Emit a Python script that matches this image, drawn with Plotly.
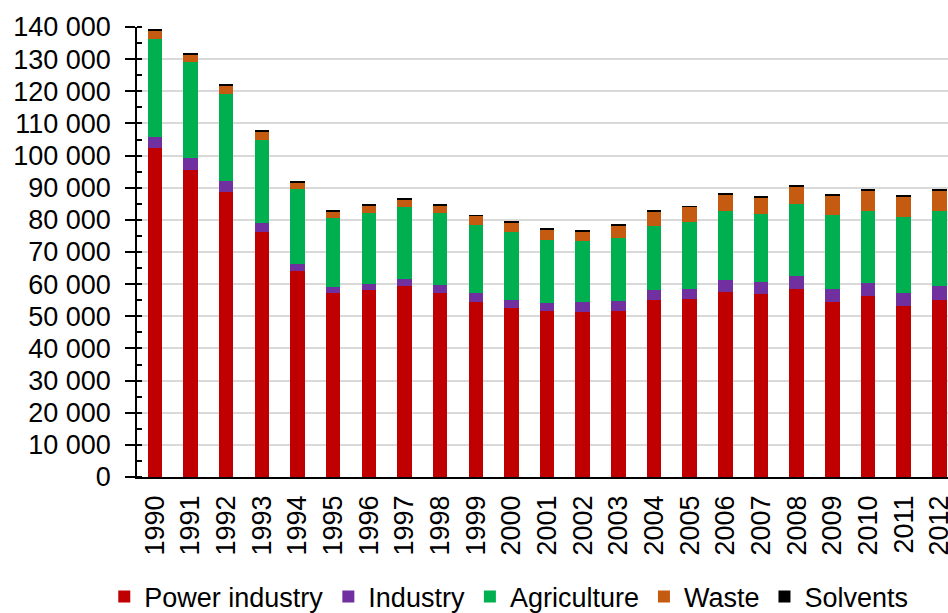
import plotly.graph_objects as go

years = [str(y) for y in range(1990, 2013)]

power_industry = [102.3, 95.6, 88.8, 76.3, 64.1, 57.2, 58.2, 59.4, 57.2, 54.4, 52.6, 51.6,
                  51.3, 51.7, 55.0, 55.3, 57.6, 56.8, 58.5, 54.5, 56.4, 53.2, 55.2]
industry = [3.4, 3.7, 3.3, 2.7, 2.1, 1.9, 1.8, 2.3, 2.5, 2.8, 2.6, 2.6,
            3.1, 3.1, 3.2, 3.3, 3.8, 3.8, 4.0, 4.1, 4.0, 4.1, 4.3]
agriculture = [30.6, 29.7, 27.1, 25.9, 23.3, 21.4, 22.0, 22.2, 22.3, 21.1, 20.9, 19.6,
               19.0, 19.6, 19.9, 20.7, 21.3, 21.1, 22.4, 22.8, 22.4, 23.5, 23.3]
waste = [2.5, 2.4, 2.6, 2.7, 2.0, 2.0, 2.6, 2.5, 2.6, 3.0, 3.1, 3.1,
         3.0, 3.8, 4.4, 4.7, 5.1, 5.2, 5.4, 6.1, 6.4, 6.4, 6.4]
solvents = [0.4, 0.4, 0.4, 0.3, 0.3, 0.4, 0.4, 0.4, 0.4, 0.2, 0.2, 0.3,
            0.4, 0.4, 0.4, 0.3, 0.5, 0.4, 0.5, 0.3, 0.3, 0.4, 0.3]

series = [
    ("Power industry", power_industry, "#C00000"),
    ("Industry", industry, "#7030A0"),
    ("Agriculture", agriculture, "#00B050"),
    ("Waste", waste, "#C55A11"),
    ("Solvents", solvents, "#000000"),
]

tick_vals = list(range(0, 140001, 10000))
tick_text = [f"{v:,}".replace(",", " ") for v in tick_vals]

FONT = "Liberation Sans, Arial, sans-serif"

fig = go.Figure()
for name, vals, color in series:
    fig.add_trace(go.Bar(
        x=years, y=[v * 1000 for v in vals], name=name,
        marker=dict(color=color, line=dict(width=0)),
    ))

fig.update_layout(
    barmode="stack",
    bargap=0.59,
    width=948, height=613,
    margin=dict(l=137, r=0, t=27, b=136, autoexpand=False),
    paper_bgcolor="white",
    plot_bgcolor="white",
    font=dict(family=FONT, size=27, color="black"),
    showlegend=True,
    legend=dict(
        orientation="h",
        xref="container", x=0.110, xanchor="left",
        yref="container", y=0.026, yanchor="middle",
        font=dict(size=27),
        traceorder="normal",
        itemclick=False,
        tracegroupgap=0,
    ),
    xaxis=dict(
        type="category",
        range=[-0.5, 22.24],
        showline=True, linecolor="black", linewidth=1.5,
        ticks="", tickangle=-90,
        showgrid=False,
        ticklabelstandoff=6,
        tickfont=dict(size=27),
    ),
    yaxis=dict(
        range=[0, 140000],
        tickvals=tick_vals, ticktext=tick_text,
        showline=True, linecolor="black", linewidth=1.5,
        ticks="outside", ticklen=10, tickwidth=1.5, tickcolor="black",
        minor=dict(dtick=5000, ticks="inside", ticklen=5, tickwidth=1.5, tickcolor="black", showgrid=False),
        showgrid=True, gridcolor="#D9D9D9", gridwidth=2,
        ticklabelstandoff=9,
        tickfont=dict(size=27),
        zeroline=False,
    ),
)

fig.write_html("out.html", config={"displayModeBar": False},
               post_script="document.body.style.margin='0';")
